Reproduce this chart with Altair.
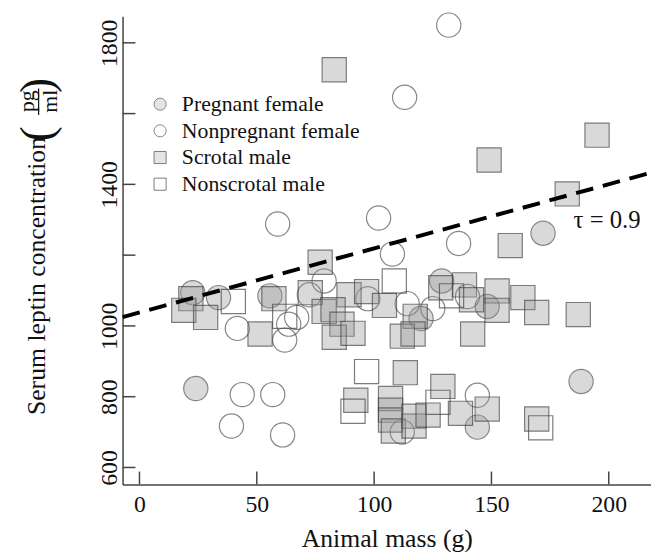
import altair as alt
import pandas as pd

FONT = "Liberation Serif"

groups = ["Pregnant female", "Nonpregnant female", "Scrotal male", "Nonscrotal male"]

preg_mass = [22.7, 33.7, 55.6, 24.0, 120.0, 128.8, 148.2, 172.0, 188.2, 144.0]
preg_leptin = [1094, 1080, 1085, 823, 1021, 1127, 1055, 1262, 843, 714]

nonpreg_mass = [131.8, 113.0, 58.9, 101.9, 136.0, 107.8, 41.7, 78.7, 63.6, 67.0, 61.9,
                72.4, 97.3, 114.1, 125.0, 139.8, 43.8, 56.8, 39.2, 61.0, 112.0, 144.0]
nonpreg_leptin = [1850, 1646, 1288, 1305, 1233, 1203, 993, 1127, 1005, 1024, 960,
                  1088, 1077, 1063, 1049, 1083, 806, 806, 717, 692, 700, 804]

scrotal_mass = [83.0, 195.0, 149.0, 182.3, 158.0, 77.0, 21.9, 18.9, 28.2, 57.3, 51.4,
                72.8, 89.3, 78.7, 82.5, 86.3, 83.0, 91.0, 96.8, 104.4, 117.5, 112.0,
                116.6, 128.4, 138.5, 141.5, 152.4, 152.4, 142.0, 163.4, 169.3, 187.0,
                113.3, 92.2, 107.0, 107.0, 107.0, 108.2, 117.0, 117.0, 123.0, 129.3,
                136.8, 148.2, 169.3]
scrotal_leptin = [1724, 1539, 1469, 1373, 1227, 1180, 1077, 1044, 1024, 1077, 977,
                  1094, 1088, 1041, 1046, 1005, 968, 979, 1097, 1058, 1027, 971,
                  977, 1108, 1116, 1074, 1099, 1044, 977, 1080, 1038, 1032,
                  868, 790, 795, 762, 734, 703, 745, 717, 748, 829,
                  753, 765, 737]

nonscrotal_mass = [40.0, 61.9, 108.6, 133.0, 96.8, 91.0, 127.2, 171.0]
nonscrotal_leptin = [1069, 1027, 1127, 1085, 871, 759, 784, 712]

line_mass = [-7.2, 218.0]
line_leptin = [1025, 1433]

x_ticks = [0, 50, 100, 150, 200]
y_ticks = [600, 800, 1000, 1200, 1400, 1600, 1800]
y_labels = [600, 800, 1000, 1400, 1800]

tau_text = ["τ = 0.9"]
tau_mass = [185.0]
tau_leptin = [1298]

rows = []
for g, ms, ls in zip(groups,
                     [preg_mass, nonpreg_mass, scrotal_mass, nonscrotal_mass],
                     [preg_leptin, nonpreg_leptin, scrotal_leptin, nonscrotal_leptin]):
    for m, l in zip(ms, ls):
        rows.append({"group": g, "mass": m, "leptin": l})
df = pd.DataFrame(rows)

xscale = alt.Scale(domain=[-7.2, 218], nice=False, zero=False)
yscale = alt.Scale(domain=[552, 1875], nice=False, zero=False)

x_axis = alt.Axis(values=x_ticks, ticks=False, tickSize=0, grid=False, format="d",
                  labelFontSize=24, labelFont=FONT, labelPadding=8, labelColor="#111",
                  title="Animal mass (g)", titleFontSize=26, titleFont=FONT,
                  titleFontWeight="normal", titlePadding=10, titleColor="#111",
                  domainColor="#444", domainWidth=1.5)
y_axis = alt.Axis(values=y_labels, ticks=False, tickSize=0, grid=False, format="d",
                  labelFontSize=24, labelFont=FONT, labelAngle=270, labelAlign="center",
                  labelBaseline="alphabetic", labelPadding=6, labelColor="#111",
                  domainColor="#444", domainWidth=1.5)

legend = alt.Legend(orient="none", legendX=27, legendY=78, title=None,
                    labelFontSize=22, labelFont=FONT, labelColor="#111", labelLimit=400,
                    symbolSize=150, symbolStrokeWidth=1,
                    labelOffset=11, rowPadding=5, padding=0)

GRAY = "rgba(150,150,150,0.5)"
points = alt.Chart(df).mark_point(filled=True, size=600, strokeWidth=1.2).encode(
    x=alt.X("mass:Q", scale=xscale, axis=x_axis),
    y=alt.Y("leptin:Q", scale=yscale, axis=y_axis, title=None),
    fill=alt.Fill("group:N", scale=alt.Scale(domain=groups,
                  range=[GRAY, "transparent", GRAY, "transparent"]), legend=legend),
    stroke=alt.Stroke("group:N", scale=alt.Scale(domain=groups,
                      range=["#555555", "#555555", "#444444", "#444444"]), legend=legend),
    shape=alt.Shape("group:N", scale=alt.Scale(domain=groups,
                    range=["circle", "circle", "square", "square"]), legend=legend),
)

line = alt.Chart(pd.DataFrame({"mass": line_mass, "leptin": line_leptin})).mark_line(
    color="black", strokeWidth=4, strokeDash=[18, 10]).encode(
    x=alt.X("mass:Q", scale=xscale, axis=x_axis),
    y=alt.Y("leptin:Q", scale=yscale, axis=y_axis, title=None),
)

tau = alt.Chart(pd.DataFrame({"mass": tau_mass, "leptin": tau_leptin, "t": tau_text})).mark_text(
    align="left", baseline="middle", fontSize=25, font=FONT, color="#111").encode(
    x=alt.X("mass:Q", scale=xscale, axis=x_axis),
    y=alt.Y("leptin:Q", scale=yscale, axis=y_axis, title=None),
    text="t:N",
)

yticks = alt.Chart(pd.DataFrame({"leptin": y_ticks})).mark_rule(color="#444", strokeWidth=1.5).encode(
    y=alt.Y("leptin:Q", scale=yscale, axis=y_axis, title=None),
    x=alt.value(0), x2=alt.value(13),
)
xticks = alt.Chart(pd.DataFrame({"mass": x_ticks})).mark_rule(color="#444", strokeWidth=1.5).encode(
    x=alt.X("mass:Q", scale=xscale, axis=x_axis),
    y=alt.value(474), y2=alt.value(461),
)

def label(txt, px, py, size):
    return alt.Chart(pd.DataFrame({"t": [txt]})).mark_text(
        angle=270, align="center", baseline="middle", fontSize=size, font=FONT, color="#111"
    ).encode(x=alt.value(px), y=alt.value(py), text="t:N")

ytitle = label("Serum leptin concentration", -87, 263, 26)
pg = label("pg", -97, 86, 22)
ml = label("ml", -73, 86, 22)
lpar = label("(", -85, 119, 46)
rpar = label(")", -85, 70, 46)
bar = alt.Chart(pd.DataFrame({"t": ["bar"]})).mark_rule(color="#111", strokeWidth=1.2).encode(
    x=alt.value(-85), y=alt.value(73), y2=alt.value(100))

chart = alt.layer(yticks, xticks, points, line, tau, ytitle, pg, ml, lpar, rpar, bar).properties(
    width=535, height=474,
    autosize=alt.AutoSizeParams(type="none"),
    padding={"left": 116, "top": 5, "right": 0, "bottom": 65},
).configure_view(stroke=None)

chart.save("out.html", embed_options={"renderer": "svg", "actions": False})
